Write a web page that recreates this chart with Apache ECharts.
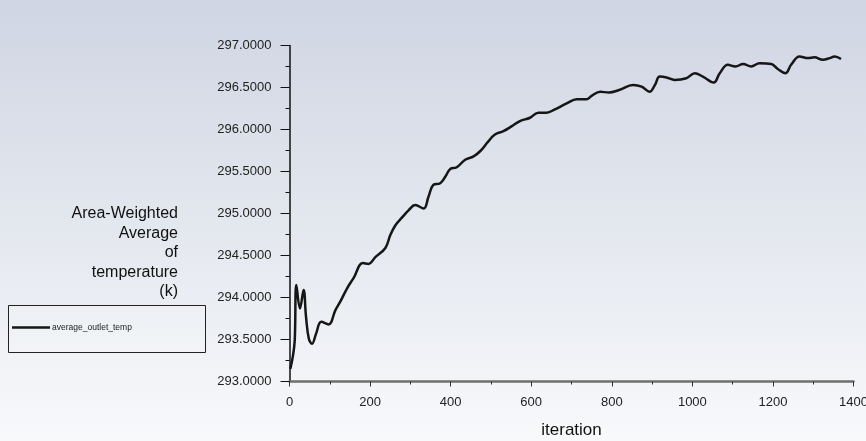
<!DOCTYPE html>
<html>
<head>
<meta charset="utf-8">
<script src="https://cdn.jsdelivr.net/npm/echarts@6/dist/echarts.min.js"></script>
<style>
  html, body { margin: 0; padding: 0; }
  #chart { width: 866px; height: 441px; }
</style>
</head>
<body>
<div id="chart"></div>
<script>
// Monitor history: area-weighted average outlet temperature per solver iteration
const iterations = [2, 8, 13, 17, 26, 35, 41, 48, 56, 66, 79, 97, 114, 126, 143, 159, 182, 196, 213, 238,
  250, 263, 279, 296, 312, 333, 345, 357, 374, 387, 399, 415, 436, 457, 475, 492, 510, 531, 552, 572,
  597, 618, 638, 659, 688, 713, 737, 750, 771, 793, 818, 853, 874, 894, 907, 919, 936, 956, 985, 1006,
  1026, 1053, 1068, 1088, 1107, 1126, 1146, 1167, 1196, 1212, 1231, 1245, 1266, 1287, 1303, 1324, 1341, 1353, 1369];
const outletTemp = [293.15, 293.29, 293.49, 294.15, 293.87, 294.09, 293.77, 293.51, 293.45, 293.57, 293.71, 293.68, 293.85, 293.95, 294.11, 294.23, 294.41, 294.40, 294.48, 294.59,
  294.74, 294.86, 294.95, 295.04, 295.10, 295.06, 295.20, 295.34, 295.36, 295.44, 295.53, 295.55, 295.64, 295.68, 295.75, 295.85, 295.94, 295.98, 296.04, 296.10,
  296.14, 296.20, 296.20, 296.24, 296.31, 296.36, 296.36, 296.40, 296.45, 296.44, 296.47, 296.53, 296.51, 296.45, 296.53, 296.63, 296.62, 296.59, 296.61, 296.67,
  296.63, 296.56, 296.67, 296.77, 296.75, 296.78, 296.75, 296.79, 296.78, 296.72, 296.67, 296.77, 296.87, 296.85, 296.86, 296.83, 296.85, 296.87, 296.84];

const seriesName = 'average_outlet_temp';
const yAxisTitle = 'Area-Weighted\nAverage\nof\ntemperature\n(k)';
const xAxisTitle = 'iteration';
const yRange = [293, 297, 0.5];
const xRange = [0, 1400, 200];

const points = iterations.map((it, i) => [it, outletTemp[i]]);

const chart = echarts.init(document.getElementById('chart'), null, { renderer: 'canvas' });
const fontFamily = 'Liberation Sans, Arial, sans-serif';

chart.setOption({
  animation: false,
  backgroundColor: 'transparent',
  graphic: [
    {
      type: 'rect', z: -10, silent: true,
      shape: { x: 0, y: 0, width: 866, height: 441 },
      style: {
        fill: new echarts.graphic.LinearGradient(0, 0, 0, 1, [
          { offset: 0, color: '#cfd5e3' },
          { offset: 0.5, color: '#e3e7ee' },
          { offset: 1, color: '#f8f9fb' }
        ])
      }
    },
    {
      type: 'text', silent: true,
      x: 178, y: 204,
      style: {
        text: yAxisTitle,
        fill: '#111',
        font: '16px ' + fontFamily,
        textAlign: 'right',
        lineHeight: 19.5
      }
    },
    {
      type: 'rect', silent: true,
      shape: { x: 8.5, y: 305.5, width: 197, height: 47 },
      style: { fill: 'rgba(255,255,255,0.15)', stroke: '#222', lineWidth: 1 }
    }
  ],
  legend: {
    left: 12, top: 323,
    padding: 0,
    itemWidth: 38, itemHeight: 2.5, itemGap: 10,
    icon: 'rect',
    textStyle: { fontSize: 8.5, color: '#222', fontFamily: fontFamily, padding: [0, 0, 0, -3] },
    data: [seriesName]
  },
  grid: {
    left: 289.5, right: 12.5, top: 45.5, bottom: 59.5,
    containLabel: false,
    outerBoundsMode: 'none'
  },
  xAxis: {
    type: 'value',
    min: xRange[0], max: xRange[1], interval: xRange[2],
    name: xAxisTitle, nameLocation: 'middle', nameGap: 40,
    nameTextStyle: { fontSize: 17, color: '#111', fontFamily: fontFamily },
    axisLine: { show: true, onZero: false, lineStyle: { color: '#6f6f6f', width: 2.5 } },
    axisTick: { show: true, length: 5, lineStyle: { color: '#333', width: 1 } },
    minorTick: { show: true, splitNumber: 2, length: 3, lineStyle: { color: '#333', width: 1 } },
    splitLine: { show: false },
    axisLabel: {
      margin: 14, fontSize: 13, color: '#222', fontFamily: fontFamily,
      showMaxLabel: true, hideOverlap: false,
      formatter: v => String(v)
    }
  },
  yAxis: {
    type: 'value',
    min: yRange[0], max: yRange[1], interval: yRange[2],
    axisLine: { show: true, onZero: false, lineStyle: { color: '#111', width: 1.5 } },
    axisTick: { show: true, length: 9, lineStyle: { color: '#111', width: 1 } },
    minorTick: { show: true, splitNumber: 2, length: 4, lineStyle: { color: '#111', width: 1 } },
    splitLine: { show: false },
    axisLabel: {
      margin: 18, fontSize: 13, color: '#222', fontFamily: fontFamily,
      formatter: v => v.toFixed(4)
    }
  },
  series: [{
    name: seriesName,
    type: 'line',
    data: points,
    smooth: 0.4,
    showSymbol: false,
    symbol: 'none',
    lineStyle: { color: '#161616', width: 2.5 },
    itemStyle: { color: '#161616' }
  }]
});
</script>
</body>
</html>
